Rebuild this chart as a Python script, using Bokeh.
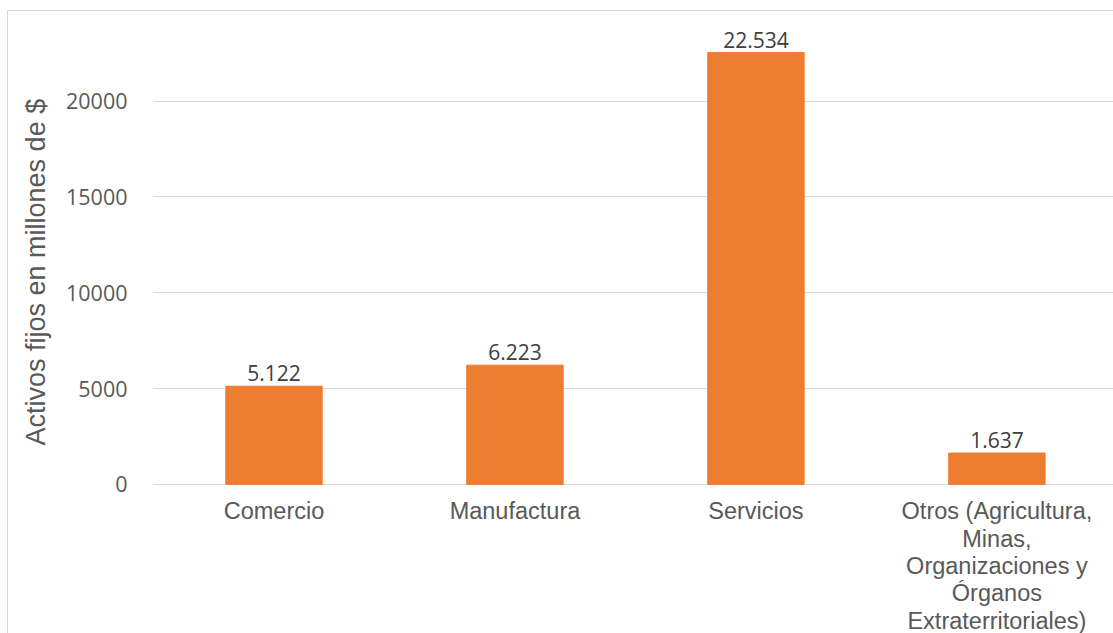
from bokeh.plotting import figure
from bokeh.models import Range1d, FixedTicker, Title
from bokeh.core.properties import value
from bokeh.embed import file_html
from bokeh.resources import INLINE

categories = ["Comercio", "Manufactura", "Servicios",
              "Otros (Agricultura,\nMinas,\nOrganizaciones y\nÓrganos\nExtraterritoriales)"]
values = [5122, 6223, 22534, 1637]
y_ticks = [0, 5000, 10000, 15000, 20000]
y_title = "Activos fijos en millones de $"

xs = [i + 0.5 for i in range(len(categories))]
labels = [f"{v:,}".replace(",", ".") for v in values]
zeros = [0 for _ in categories]

p = figure(width=1106, height=623, x_range=Range1d(0, 3.988), y_range=Range1d(-7833, 24000),
           output_backend="svg", toolbar_location=None,
           min_border_left=145, min_border_right=0, min_border_top=13, min_border_bottom=0)
p.margin = (10, 0, 0, 7)
p.styles = {"border-left": "1px solid #D9D9D9", "border-top": "1px solid #D9D9D9", "box-sizing": "border-box"}
p.outline_line_color = None
p.background_fill_color = "white"
p.border_fill_color = "white"

p.vbar(x=xs, top=values, width=0.4, color="#ED7D31")
p.text(x=xs, y=values, text=labels, text_align="center", text_baseline="bottom", y_offset=-5,
       text_font=value("Open Sans"), text_font_size="21px", text_color="#404040")

# category labels under the axis
p.text(x=xs, y=zeros, text=categories, text_align="center", text_baseline="top", y_offset=14,
       text_font=value("Liberation Sans"), text_font_size="23.5px", text_line_height=1.05,
       text_color="#595959")

p.xaxis.visible = False
p.xgrid.grid_line_color = None
p.ygrid.grid_line_color = "#D9D9D9"
p.ygrid.grid_line_width = 1
p.ygrid.ticker = FixedTicker(ticks=y_ticks)

p.yaxis.ticker = FixedTicker(ticks=y_ticks)
p.yaxis.axis_line_color = None
p.yaxis.major_tick_line_color = None
p.yaxis.minor_tick_line_color = None
p.yaxis.major_tick_out = 0
p.yaxis.major_label_standoff = 26
p.yaxis.major_label_text_font = "Open Sans"
p.yaxis.major_label_text_font_size = "21.5px"
p.yaxis.major_label_text_color = "#595959"

p.add_layout(Title(text=y_title, align="left", vertical_align="top", offset=189, standoff=22,
                   text_font="Liberation Sans", text_font_style="normal",
                   text_font_size="27px", text_color="#595959"), "left")

open("out.html", "w").write(file_html(p, INLINE))
